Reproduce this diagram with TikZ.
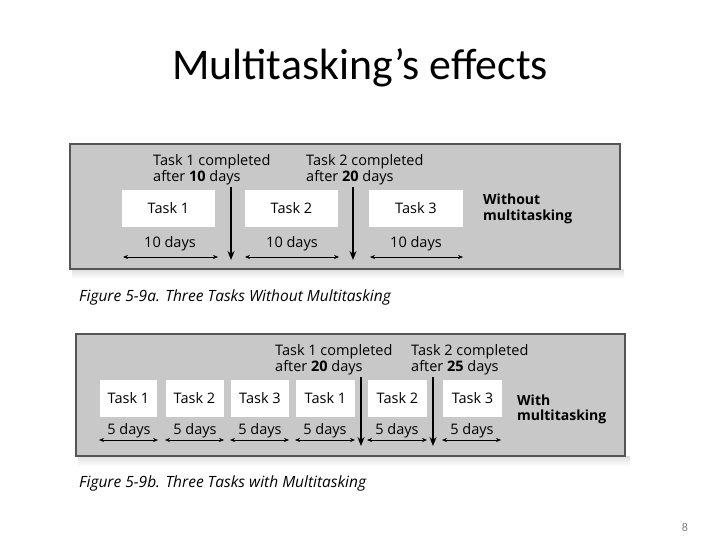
\documentclass[tikz,border=0pt]{standalone}
\usepackage{fontspec}
\setmainfont{Open Sans}
\newfontfamily\titlefont{Carlito}
\usetikzlibrary{arrows.meta}
\definecolor{panelgray}{RGB}{200,200,200}
\definecolor{edgegray}{RGB}{85,85,85}
\definecolor{shadowgray}{RGB}{222,222,222}
\tikzset{
  panel/.style={draw=edgegray, line width=1.1pt, fill=panelgray},
  panelshadow/.style={top color=shadowgray, bottom color=white, draw=none},
  taskbox/.style={fill=white, draw=none, inner sep=0pt, font=\fontsize{14.5}{14.5}\selectfont},
  lbl/.style={inner sep=0pt, font=\fontsize{14.5}{15.5}\selectfont, align=left, anchor=west},
  durlbl/.style={inner sep=0pt, font=\fontsize{14.5}{14.5}\selectfont},
  span/.style={line width=0.6pt, {Stealth[length=5pt,width=4pt]}-{Stealth[length=5pt,width=4pt]}},
  done/.style={line width=1.6pt, -{Stealth[length=9pt,width=7pt]}},
  figcaption/.style={inner sep=0pt, anchor=west, font=\fontsize{15.5}{15.5}\selectfont\itshape},
  sidelbl/.style={inner sep=0pt, anchor=west, align=left, font=\fontsize{14}{15.5}\selectfont\bfseries},
}
\begin{document}
\begin{tikzpicture}[x=1pt,y=-1pt]
\useasboundingbox (0,0) rectangle (720,540);
% title
\node[font=\titlefont\fontsize{43.8}{44}\selectfont, inner sep=0pt] (title) at (360,68) {Multitasking’s effects};
% ---------- panel a ----------
\shade[panelshadow] (72,269) rectangle (624,279);
\draw[panel] (70,144) rectangle (620,269);
\node[taskbox, minimum width=93pt, minimum height=37pt] (a1) at (168.5,208.5) {Task 1};
\node[taskbox, minimum width=93pt, minimum height=37pt] (a2) at (291.5,208.5) {Task 2};
\node[taskbox, minimum width=94pt, minimum height=37pt] (a3) at (416,208.5) {Task 3};
\node[durlbl] (da1) at (170,243.5) {10 days};
\node[durlbl] (da2) at (292,243.5) {10 days};
\node[durlbl] (da3) at (416,243.5) {10 days};
\coordinate (sa1l) at (123,257); \coordinate (sa1r) at (218,257);
\coordinate (sa2l) at (245,257); \coordinate (sa2r) at (339,257);
\coordinate (sa3l) at (370,257); \coordinate (sa3r) at (463,257);
\draw[span] (sa1l) -- (sa1r);
\draw[span] (sa2l) -- (sa2r);
\draw[span] (sa3l) -- (sa3r);
\node[lbl] (ca1) at (153,169.5) {Task 1 completed\\after \textbf{10} days};
\node[lbl] (ca2) at (306,169.5) {Task 2 completed\\after \textbf{20} days};
\coordinate (ta1) at (231,187); \coordinate (ba1) at (231,260);
\coordinate (ta2) at (353,187); \coordinate (ba2) at (353,260);
\draw[done] (ta1) -- (ba1);
\draw[done] (ta2) -- (ba2);
\node[sidelbl] (wa) at (483,209) {Without\\multitasking};
\node[figcaption] (capa) at (79,297) {Figure 5-9a. Three Tasks Without Multitasking};
% ---------- panel b ----------
\shade[panelshadow] (78,456) rectangle (630,466);
\draw[panel] (76,334) rectangle (625,456);
\node[taskbox, minimum width=57pt, minimum height=37pt] (b1) at (128.5,398.5) {Task 1};
\node[taskbox, minimum width=58pt, minimum height=37pt] (b2) at (194.5,398.5) {Task 2};
\node[taskbox, minimum width=58pt, minimum height=37pt] (b3) at (260,398.5) {Task 3};
\node[taskbox, minimum width=59pt, minimum height=37pt] (b4) at (325.5,398.5) {Task 1};
\node[taskbox, minimum width=59pt, minimum height=37pt] (b5) at (397.5,398.5) {Task 2};
\node[taskbox, minimum width=59pt, minimum height=37pt] (b6) at (472.5,398.5) {Task 3};
\node[durlbl] (db1) at (129,430.5) {5 days};
\node[durlbl] (db2) at (195,430.5) {5 days};
\node[durlbl] (db3) at (260,430.5) {5 days};
\node[durlbl] (db4) at (325,430.5) {5 days};
\node[durlbl] (db5) at (397,430.5) {5 days};
\node[durlbl] (db6) at (472,430.5) {5 days};
\coordinate (sb1l) at (99,440); \coordinate (sb1r) at (158,440);
\coordinate (sb2l) at (165,440); \coordinate (sb2r) at (224,440);
\coordinate (sb3l) at (230,440); \coordinate (sb3r) at (289,440);
\coordinate (sb4l) at (295,440); \coordinate (sb4r) at (355,440);
\coordinate (sb5l) at (367,440); \coordinate (sb5r) at (427,440);
\coordinate (sb6l) at (442,440); \coordinate (sb6r) at (501,440);
\draw[span] (sb1l) -- (sb1r);
\draw[span] (sb2l) -- (sb2r);
\draw[span] (sb3l) -- (sb3r);
\draw[span] (sb4l) -- (sb4r);
\draw[span] (sb5l) -- (sb5r);
\draw[span] (sb6l) -- (sb6r);
\node[lbl] (cb1) at (275,359.5) {Task 1 completed\\after \textbf{20} days};
\node[lbl] (cb2) at (411,359.5) {Task 2 completed\\after \textbf{25} days};
\coordinate (tb1) at (361,377); \coordinate (bb1) at (361,446);
\coordinate (tb2) at (433,377); \coordinate (bb2) at (433,446);
\draw[done] (tb1) -- (bb1);
\draw[done] (tb2) -- (bb2);
\node[sidelbl] (wb) at (517,409.5) {With\\multitasking};
\node[figcaption] (capb) at (79,483) {Figure 5-9b. Three Tasks with Multitasking};
% slide number
\node[font=\titlefont\fontsize{12}{12}\selectfont, text=gray, inner sep=0pt] (num) at (685,527) {8};
\end{tikzpicture}
\end{document}
